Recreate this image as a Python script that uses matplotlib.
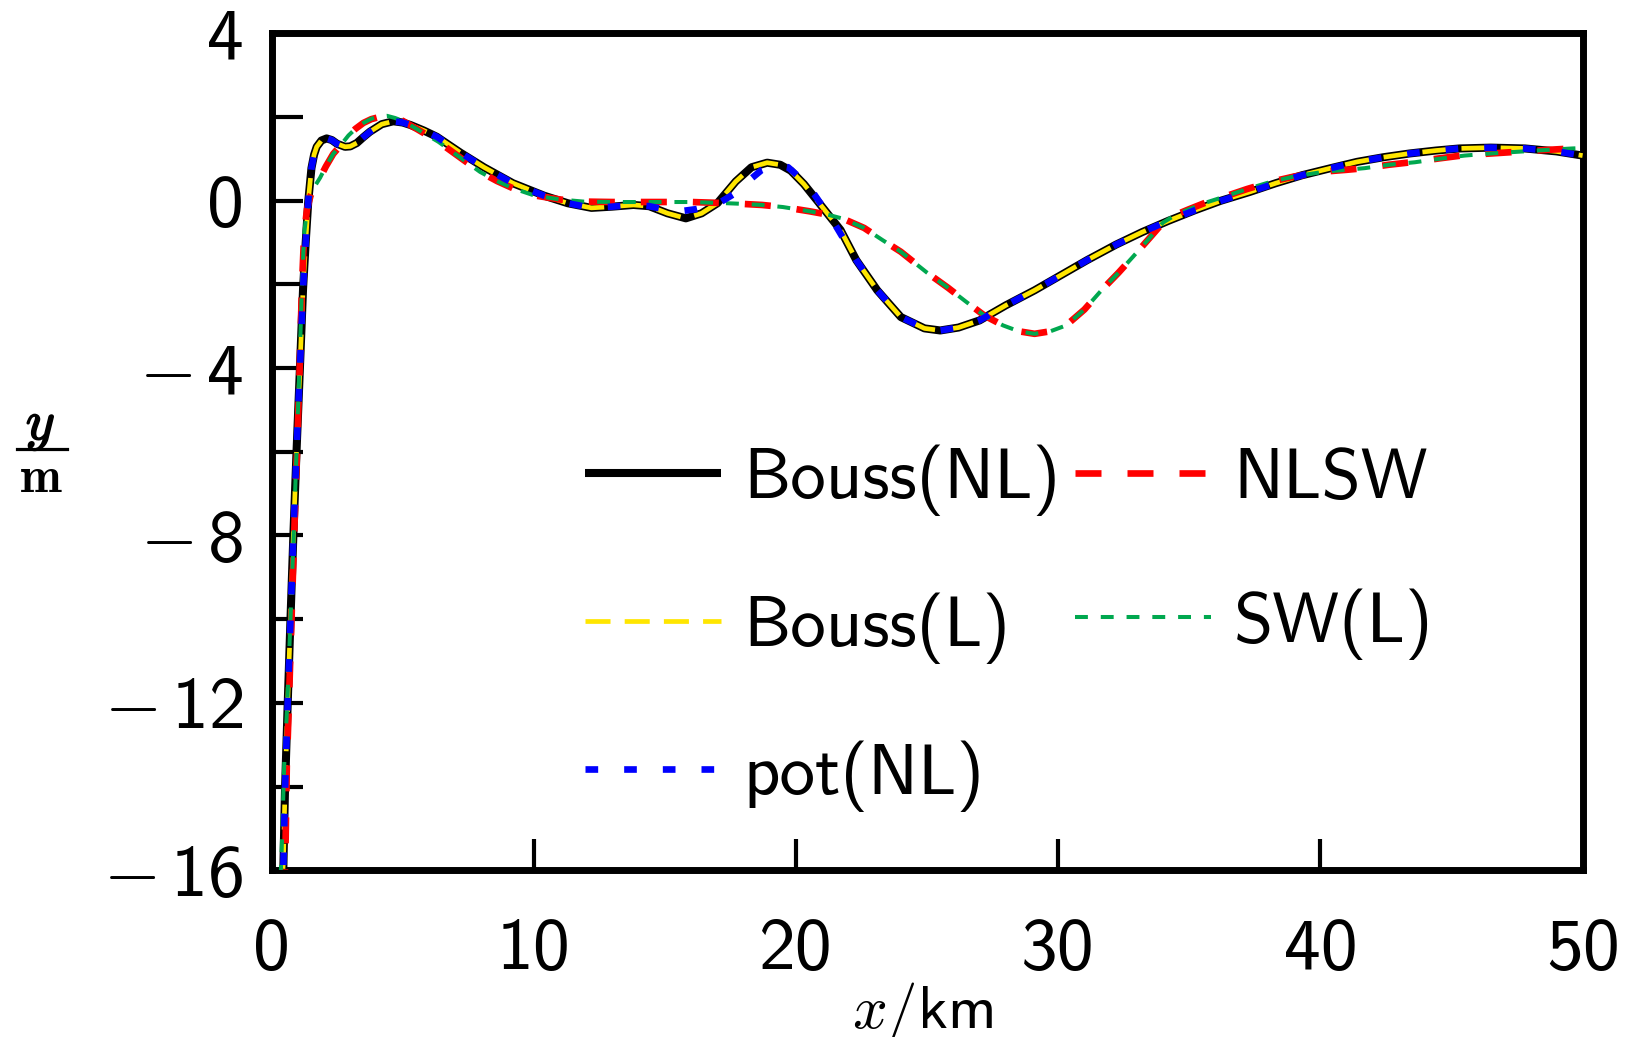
import matplotlib
matplotlib.use('Agg')
import matplotlib.pyplot as plt
import matplotlib.patheffects as pe
from matplotlib.lines import Line2D
from matplotlib.ticker import MultipleLocator, FixedLocator, FuncFormatter

# ---------------- data ----------------
x_bouss_nl = [0.35, 0.45, 0.51, 0.61, 0.72, 0.83, 0.95, 1.08, 1.20, 1.30, 1.40, 1.52, 1.62,
              1.72, 1.90, 2.10, 2.30, 2.50, 2.80, 3.00, 3.25, 3.50, 3.75, 4.20, 4.64, 5.00,
              5.30, 5.80, 6.30, 7.20, 8.10, 9.20, 10.40, 11.30, 12.20, 13.00, 13.80, 14.40,
              15.10, 15.80, 16.40, 17.00, 17.70, 18.30, 18.90, 19.40, 19.80, 20.30, 20.80,
              21.70, 22.30, 23.10, 24.00, 24.90, 25.50, 26.20, 27.00, 28.00, 29.10, 30.10,
              31.10, 32.20, 33.20, 34.20, 35.20, 36.20, 37.30, 38.30, 39.30, 40.40, 41.40,
              42.40, 43.40, 44.40, 45.30, 46.50, 47.80, 49.00, 50.00]
y_bouss_nl = [-16.9, -15.9, -14.1, -12.1, -10.0, -8.0, -6.0, -4.0, -2.1, -1.0, 0.0, 0.78, 1.10,
              1.29, 1.44, 1.49, 1.45, 1.36, 1.29, 1.30, 1.38, 1.52, 1.65, 1.83, 1.90, 1.87,
              1.81, 1.68, 1.53, 1.15, 0.80, 0.42, 0.12, -0.06, -0.17, -0.14, -0.10, -0.13,
              -0.30, -0.42, -0.30, -0.06, 0.46, 0.80, 0.91, 0.86, 0.72, 0.40, 0.01,
              -0.70, -1.42, -2.14, -2.78, -3.05, -3.10, -3.03, -2.86, -2.50, -2.14, -1.78,
              -1.42, -1.05, -0.75, -0.48, -0.23, 0.00, 0.21, 0.42, 0.61, 0.78, 0.93,
              1.04, 1.13, 1.20, 1.25, 1.27, 1.25, 1.18, 1.08]

x_bouss_l = [0.33, 0.45, 0.51, 0.61, 0.72, 0.83, 0.95, 1.08, 1.20, 1.30, 1.40, 1.52, 1.62,
             1.72, 1.90, 2.10, 2.30, 2.50, 2.80, 3.00, 3.25, 3.50, 3.75, 4.20, 4.64, 5.00,
             5.30, 5.80, 6.30, 7.20, 8.10, 9.20, 10.40, 11.30, 12.20, 13.00, 13.80, 14.40,
             15.10, 15.80, 16.40, 17.00, 17.70, 18.30, 18.90, 19.40, 19.80, 20.30, 20.80,
             21.70, 22.30, 23.10, 24.00, 24.90, 25.50, 26.20, 27.00, 28.00, 29.10, 30.10,
             31.10, 32.20, 33.20, 34.20, 35.20, 36.20, 37.30, 38.30, 39.30, 40.40, 41.40,
             42.40, 43.40, 44.40, 45.30, 46.50, 47.80, 49.00, 50.00]
y_bouss_l = [-16.9, -15.8, -14.1, -12.1, -10.0, -8.0, -6.0, -4.0, -2.1, -1.0, 0.0, 0.78, 1.10,
             1.29, 1.44, 1.49, 1.45, 1.36, 1.29, 1.30, 1.38, 1.52, 1.65, 1.83, 1.90, 1.87,
             1.81, 1.68, 1.53, 1.15, 0.80, 0.42, 0.12, -0.06, -0.17, -0.14, -0.10, -0.13,
             -0.30, -0.42, -0.30, -0.06, 0.46, 0.80, 0.91, 0.86, 0.72, 0.40, 0.01,
             -0.70, -1.42, -2.14, -2.78, -3.05, -3.10, -3.03, -2.86, -2.50, -2.14, -1.78,
             -1.42, -1.05, -0.75, -0.48, -0.23, 0.00, 0.21, 0.42, 0.61, 0.78, 0.93,
             1.04, 1.13, 1.20, 1.25, 1.27, 1.25, 1.18, 1.08]

x_pot_nl = [0.36, 0.45, 0.51, 0.61, 0.72, 0.83, 0.95, 1.08, 1.20, 1.30, 1.40, 1.52, 1.62,
            1.72, 1.90, 2.10, 2.30, 2.50, 2.80, 3.00, 3.25, 3.50, 3.75, 4.20, 4.64, 5.00,
            5.30, 5.80, 6.30, 7.20, 8.10, 9.20, 10.40, 11.30, 12.20, 13.00, 13.80, 14.40,
            15.10, 15.60, 16.20, 17.00, 17.60, 18.20, 18.70, 19.20, 19.70, 20.20, 20.70,
            21.50, 22.30, 23.10, 24.00, 24.90, 25.50, 26.20, 27.00, 28.00, 29.10, 30.10,
            31.10, 32.20, 33.20, 34.20, 35.20, 36.20, 37.30, 38.30, 39.30, 40.40, 41.40,
            42.40, 43.40, 44.40, 45.30, 46.50, 47.80, 49.00, 50.00]
y_pot_nl = [-16.8, -15.9, -14.1, -12.1, -10.0, -8.0, -6.0, -4.0, -2.1, -1.0, 0.0, 0.78, 1.10,
            1.29, 1.44, 1.49, 1.45, 1.36, 1.29, 1.30, 1.38, 1.52, 1.65, 1.83, 1.90, 1.87,
            1.81, 1.68, 1.53, 1.15, 0.80, 0.42, 0.12, -0.06, -0.17, -0.14, -0.10, -0.13,
            -0.22, -0.25, -0.20, -0.08, 0.15, 0.48, 0.74, 0.86, 0.80, 0.52, 0.15,
            -0.58, -1.42, -2.14, -2.78, -3.05, -3.10, -3.03, -2.86, -2.50, -2.14, -1.78,
            -1.42, -1.05, -0.75, -0.48, -0.23, 0.00, 0.21, 0.42, 0.61, 0.78, 0.93,
            1.04, 1.13, 1.20, 1.25, 1.27, 1.25, 1.18, 1.08]

x_nlsw = [0.48, 0.53, 0.58, 0.66, 0.76, 0.86, 0.97, 1.07, 1.16, 1.24, 1.35, 1.49, 1.65, 1.85,
          2.07, 2.35, 2.60, 2.93, 3.20, 3.50, 3.80, 4.10, 4.40, 4.70, 5.00, 5.50, 6.36, 7.20,
          7.95, 8.60, 9.20, 10.00, 11.00, 11.90, 13.00, 14.00, 15.00, 16.00, 17.00, 17.80,
          18.70, 19.50, 20.50, 21.20, 21.80, 22.60, 23.30, 24.00, 25.00, 25.80, 26.50, 27.20,
          27.90, 28.50, 29.10, 29.70, 30.30, 31.00, 31.65, 32.30, 32.85, 33.50, 34.00, 34.50,
          35.00, 35.60, 36.30, 37.20, 38.10, 39.00, 40.20, 41.00, 41.70, 42.60, 43.60, 44.50,
          45.50, 46.50, 47.50, 48.50, 49.60, 50.00]
y_nlsw = [-16.6, -15.5, -13.5, -12.0, -10.0, -8.0, -6.0, -4.0, -2.0, -0.8, -0.2, 0.13, 0.35,
          0.55, 0.82, 1.12, 1.30, 1.56, 1.72, 1.86, 1.95, 2.00, 2.03, 1.98, 1.91, 1.73, 1.41,
          1.03, 0.69, 0.47, 0.30, 0.13, 0.03, -0.02, -0.03, -0.03, -0.03, -0.03, -0.05, -0.07,
          -0.10, -0.15, -0.25, -0.33, -0.43, -0.65, -0.94, -1.22, -1.72, -2.08, -2.42, -2.75,
          -2.98, -3.12, -3.18, -3.12, -2.98, -2.60, -2.14, -1.72, -1.34, -0.88, -0.52, -0.33,
          -0.20, -0.05, 0.09, 0.28, 0.45, 0.58, 0.70, 0.74, 0.78, 0.86, 0.93, 1.01,
          1.09, 1.13, 1.17, 1.21, 1.25, 1.26]

x_sw_l = [0.30, 0.38, 0.48, 0.60, 0.72, 0.84, 0.95, 1.06, 1.16, 1.24, 1.35, 1.49, 1.65, 1.85,
          2.07, 2.35, 2.60, 2.93, 3.20, 3.50, 3.80, 4.10, 4.40, 4.70, 5.00, 5.50, 6.36, 7.20,
          7.95, 8.60, 9.20, 10.00, 11.00, 11.90, 13.00, 14.00, 15.00, 16.00, 17.00, 17.80,
          18.70, 19.50, 20.50, 21.20, 21.80, 22.60, 23.30, 24.00, 25.00, 25.80, 26.50, 27.20,
          27.90, 28.50, 29.10, 29.70, 30.30, 31.00, 31.65, 32.30, 32.85, 33.50, 34.00, 34.50,
          35.00, 35.60, 36.30, 37.20, 38.10, 39.00, 40.20, 41.00, 41.70, 42.60, 43.60, 44.50,
          45.50, 46.50, 47.50, 48.50, 49.60, 50.00]
y_sw_l = [-16.8, -15.6, -13.5, -12.0, -10.0, -8.0, -6.0, -4.0, -2.0, -0.8, -0.2, 0.13, 0.35,
          0.55, 0.82, 1.12, 1.30, 1.56, 1.72, 1.86, 1.96, 2.01, 2.03, 1.98, 1.91, 1.73, 1.41,
          1.03, 0.69, 0.47, 0.30, 0.13, 0.03, -0.02, -0.03, -0.03, -0.03, -0.03, -0.05, -0.07,
          -0.10, -0.15, -0.25, -0.33, -0.43, -0.65, -0.94, -1.22, -1.72, -2.08, -2.42, -2.75,
          -2.98, -3.12, -3.18, -3.12, -2.98, -2.60, -2.14, -1.72, -1.34, -0.88, -0.52, -0.33,
          -0.20, -0.05, 0.09, 0.28, 0.45, 0.58, 0.70, 0.74, 0.78, 0.86, 0.92, 1.00,
          1.08, 1.13, 1.17, 1.21, 1.25, 1.26]

labels = ['Bouss(NL)', 'Bouss(L)', 'pot(NL)', 'NLSW', 'SW(L)']
x_ticks = [0, 10, 20, 30, 40, 50]
y_ticks = [-16, -12, -8, -4, 0, 4]

# ---------------- style ----------------
plt.rcParams['font.family'] = ['cmss10', 'DejaVu Sans']
plt.rcParams['mathtext.fontset'] = 'cm'
plt.rcParams['axes.formatter.use_mathtext'] = False

W, H = 1638, 1037
fig = plt.figure(figsize=(W / 100, H / 100), dpi=100)
ax = fig.add_axes([271.6 / W, 1 - 870.2 / H, (1582.6 - 271.6) / W, (870.2 - 33.4) / H])

l_bnl, = ax.plot(x_bouss_nl, y_bouss_nl, color='black', lw=5.8, solid_capstyle='butt', zorder=2)
l_bl, = ax.plot(x_bouss_l, y_bouss_l, color='#ffe600', lw=3.4, dashes=(5.3, 3.0), zorder=3)
l_nlsw, = ax.plot(x_nlsw, y_nlsw, color='#ff0000', lw=4.8, dashes=(3.9, 3.9), zorder=4)
l_sw, = ax.plot(x_sw_l, y_sw_l, color='#00a84f', lw=2.9, dashes=(3.2, 3.2), zorder=5)
l_pot, = ax.plot(x_pot_nl, y_pot_nl, color='#0000ff', lw=4.8, dashes=(1.9, 3.9), zorder=6)

ax.set_xlim(0, 50)
ax.set_ylim(-16, 4)
ax.xaxis.set_major_locator(FixedLocator(x_ticks))
ax.yaxis.set_major_locator(FixedLocator(y_ticks))
ax.yaxis.set_minor_locator(MultipleLocator(2))
ax.yaxis.set_major_formatter(FuncFormatter(
    lambda v, p: (r'$-\,$%d' % abs(v)) if v < 0 else '%d' % v))

for s in ax.spines.values():
    s.set_linewidth(5.0)
ax.tick_params(axis='both', which='both', direction='in', length=22, width=3.0,
               top=False, right=False, labelsize=53)
ax.tick_params(axis='x', pad=34.5)
ax.tick_params(axis='y', pad=20)
ax.tick_params(axis='both', which='minor', labelleft=False)

leg = ax.legend([l_bnl, l_bl, l_pot, l_nlsw, l_sw], labels, ncol=2, frameon=False,
                fontsize=51, loc='upper left',
                bbox_to_anchor=(585 / W, 1 - 444 / H), bbox_transform=fig.transFigure,
                borderpad=0, borderaxespad=0, handlelength=1.92, handletextpad=0.32,
                columnspacing=0.2, labelspacing=1.08)

# x label
fig.text(922 / W, 1 - 1028 / H, r'$x$/km', fontsize=44, ha='center', va='baseline')

# y label drawn as a stacked fraction y / m
fig.text(40.5 / W, 1 - 428 / H, r'$y$', fontsize=40, ha='center', va='center',
         path_effects=[pe.withStroke(linewidth=1.2, foreground='black')])
fig.add_artist(Line2D([17 / W, 67 / W], [1 - 449 / H, 1 - 449 / H], color='black', lw=2.3))
fig.text(40.5 / W, 1 - 479 / H, r'$\mathbf{m}$', fontsize=36, ha='center', va='center')

fig.savefig('out.png', dpi=100)
